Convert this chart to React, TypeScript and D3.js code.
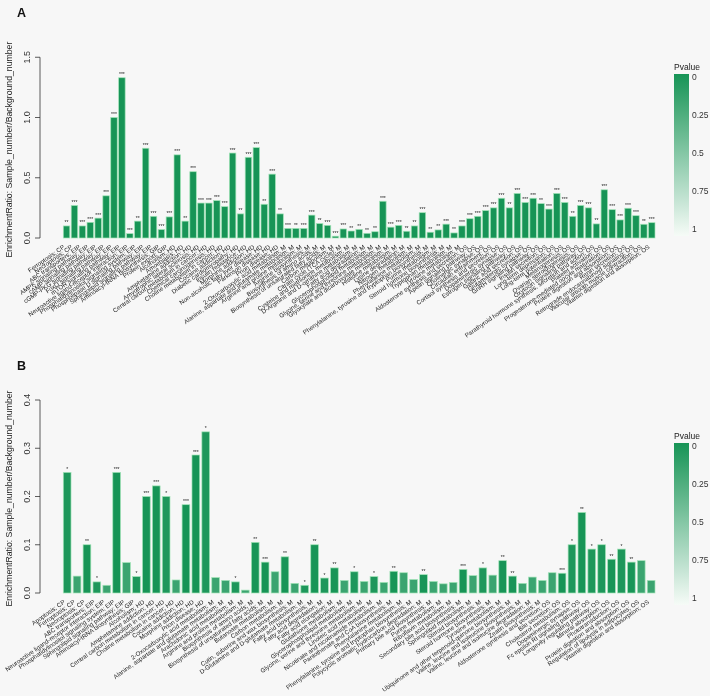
import React from "react";
import * as d3 from "d3";

// ---------- Panel A data ----------
const labelsA: string[] = [
  "Ferroptosis; CP", "Necroptosis; CP",
  "ABC transporters; EIP", "AMPK signaling pathway; EIP", "cAMP signaling pathway; EIP",
  "cGMP-PKG signaling pathway; EIP", "FoxO signaling pathway; EIP", "mTOR signaling pathway; EIP",
  "Neuroactive ligand-receptor interaction; EIP", "Phosphatidylinositol signaling system; EIP",
  "Phospholipase D signaling pathway; EIP", "Sphingolipid signaling pathway; EIP",
  "Aminoacyl-tRNA biosynthesis; GIP", "Protein export; GIP",
  "Alcoholism; HD", "Amoebiasis; HD", "Amphetamine addiction; HD", "Amyotrophic lateral sclerosis; HD",
  "Central carbon metabolism in cancer; HD", "Chemical carcinogenesis; HD", "Choline metabolism in cancer; HD",
  "Cocaine addiction; HD", "Diabetic cardiomyopathy; HD", "Insulin resistance; HD", "Morphine addiction; HD",
  "Non-alcoholic fatty liver disease; HD", "Parkinson disease; HD", "Prion disease; HD",
  "2-Oxocarboxylic acid metabolism; M", "Alanine, aspartate and glutamate metabolism; M",
  "Arginine and proline metabolism; M", "Arginine biosynthesis; M", "Biosynthesis of amino acids; M",
  "Biosynthesis of unsaturated fatty acids; M", "Carbon metabolism; M", "Citrate cycle (TCA cycle); M",
  "Cysteine and methionine metabolism; M", "D-Arginine and D-ornithine metabolism; M",
  "Fatty acid degradation; M", "Glycerophospholipid metabolism; M", "Glycine, serine and threonine metabolism; M",
  "Glyoxylate and dicarboxylate metabolism; M", "Histidine metabolism; M", "Lysine degradation; M",
  "Nitrogen metabolism; M", "Phenylalanine metabolism; M", "Phenylalanine, tyrosine and tryptophan biosynthesis; M",
  "Purine metabolism; M", "Steroid hormone biosynthesis; M", "Tryptophan metabolism; M", "Tyrosine metabolism; M",
  "Aldosterone synthesis and secretion; OS", "Apelin signaling pathway; OS", "Cholinergic synapse; OS",
  "Circadian entrainment; OS", "Cortisol synthesis and secretion; OS", "Dopaminergic synapse; OS",
  "Estrogen signaling pathway; OS", "Gastric acid secretion; OS", "Glutamatergic synapse; OS",
  "GnRH signaling pathway; OS", "Insulin secretion; OS", "Long-term depression; OS", "Long-term potentiation; OS",
  "Melanogenesis; OS", "Ovarian steroidogenesis; OS", "Oxytocin signaling pathway; OS",
  "Parathyroid hormone synthesis, secretion and action; OS", "Platelet activation; OS",
  "Progesterone-mediated oocyte maturation; OS", "Protein digestion and absorption; OS", "Renin secretion; OS",
  "Retrograde endocannabinoid signaling; OS", "Vascular smooth muscle contraction; OS",
  "Vitamin digestion and absorption; OS",
];
const valuesA: number[] = [
  0.10, 0.27, 0.10, 0.13, 0.165, 0.35, 1.00, 1.33, 0.036, 0.14,
  0.745, 0.18, 0.07, 0.175, 0.69, 0.14, 0.55, 0.29, 0.29, 0.31,
  0.26, 0.705, 0.20, 0.67, 0.75, 0.28, 0.53, 0.20, 0.08, 0.08,
  0.08, 0.19, 0.12, 0.105, 0.015, 0.075, 0.058, 0.072, 0.039, 0.052,
  0.305, 0.09, 0.105, 0.056, 0.10, 0.21, 0.048, 0.067, 0.115, 0.042,
  0.10, 0.16, 0.18, 0.227, 0.25, 0.33, 0.25, 0.37, 0.295, 0.33,
  0.285, 0.24, 0.37, 0.295, 0.18, 0.27, 0.25, 0.117, 0.40, 0.235,
  0.15, 0.247, 0.185, 0.114, 0.127,
];
const starsA: string[] = [
  "**", "***", "***", "***", "***", "***", "***", "***", "***", "**",
  "***", "***", "***", "***", "***", "**", "***", "***", "***", "***",
  "***", "***", "**", "***", "***", "**", "***", "**", "***", "**",
  "***", "***", "**", "***", "***", "***", "**", "**", "**", "**",
  "***", "***", "***", "**", "**", "***", "**", "**", "***", "**",
  "***", "***", "***", "***", "***", "***", "**", "***", "***", "***",
  "**", "***", "***", "***", "**", "***", "***", "**", "***", "***",
  "***", "***", "***", "**", "***",
];
const ticksA: number[] = [0, 0.5, 1.0, 1.5];

// ---------- Panel B data ----------
const labelsB: string[] = [
  "Apoptosis; CP", "Ferroptosis; CP", "Necroptosis; CP",
  "ABC transporters; EIP", "Neuroactive ligand-receptor interaction; EIP",
  "Phosphatidylinositol signaling system; EIP", "Sphingolipid signaling pathway; EIP",
  "Aminoacyl-tRNA biosynthesis; GIP",
  "Alcoholism; HD", "Amphetamine addiction; HD", "Central carbon metabolism in cancer; HD",
  "Choline metabolism in cancer; HD", "Cocaine addiction; HD", "Morphine addiction; HD", "Prion disease; HD",
  "2-Oxocarboxylic acid metabolism; M", "Alanine, aspartate and glutamate metabolism; M",
  "Arachidonic acid metabolism; M", "Arginine and proline metabolism; M", "Biosynthesis of amino acids; M",
  "Biosynthesis of unsaturated fatty acids; M", "Butanoate metabolism; M", "Carbon metabolism; M",
  "Cutin, suberine and wax biosynthesis; M", "D-Glutamine and D-glutamate metabolism; M",
  "Fatty acid biosynthesis; M", "Fatty acid degradation; M", "Fatty acid elongation; M",
  "Glutathione metabolism; M", "Glycerophospholipid metabolism; M", "Glycine, serine and threonine metabolism; M",
  "Linoleic acid metabolism; M", "Nicotinate and nicotinamide metabolism; M", "Pantothenate and CoA biosynthesis; M",
  "Phenylalanine metabolism; M", "Phenylalanine, tyrosine and tryptophan biosynthesis; M",
  "Polycyclic aromatic hydrocarbon degradation; M", "Primary bile acid biosynthesis; M", "Purine metabolism; M",
  "Riboflavin metabolism; M", "Secondary bile acid biosynthesis; M", "Sphingolipid metabolism; M",
  "Steroid biosynthesis; M", "Steroid hormone biosynthesis; M", "Tyrosine metabolism; M",
  "Ubiquinone and other terpenoid-quinone biosynthesis; M", "Valine, leucine and isoleucine biosynthesis; M",
  "Valine, leucine and isoleucine degradation; M", "Zeatin biosynthesis; M",
  "Aldosterone synthesis and secretion; OS", "Bile secretion; OS", "Cholesterol metabolism; OS",
  "Dopaminergic synapse; OS", "Fc epsilon RI signaling pathway; OS", "Longevity regulating pathway; OS",
  "Mineral absorption; OS", "Phototransduction; OS", "Protein digestion and absorption; OS",
  "Regulation of lipolysis in adipocytes; OS", "Vitamin digestion and absorption; OS",
];
const valuesB: number[] = [
  0.25, 0.035, 0.10, 0.023, 0.016, 0.25, 0.063, 0.034, 0.20, 0.222,
  0.20, 0.027, 0.183, 0.286, 0.334, 0.032, 0.026, 0.023, 0.006, 0.105,
  0.064, 0.044, 0.075, 0.02, 0.016, 0.10, 0.031, 0.052, 0.026, 0.044,
  0.024, 0.034, 0.022, 0.045, 0.042, 0.028, 0.038, 0.024, 0.019, 0.022,
  0.049, 0.036, 0.052, 0.037, 0.067, 0.035, 0.02, 0.033, 0.026, 0.042,
  0.041, 0.10, 0.167, 0.091, 0.10, 0.07, 0.091, 0.064, 0.067, 0.026,
];
const starsB: string[] = [
  "*", "", "**", "*", "", "***", "", "*", "***", "***",
  "*", "", "***", "***", "*", "", "", "*", "", "**",
  "***", "", "**", "", "*", "**", "*", "**", "", "*",
  "", "*", "", "**", "", "", "**", "", "", "",
  "***", "", "*", "", "**", "**", "", "", "", "",
  "***", "*", "**", "*", "*", "**", "*", "**", "", "",
];
const ticksB: number[] = [0, 0.1, 0.2, 0.3, 0.4];

const legendTicks: number[] = [0, 0.25, 0.5, 0.75, 1];
const starP: Record<string, number> = { "***": 0.0005, "**": 0.005, "*": 0.03, "": 0.16 };

const FONT = "'Liberation Sans', Arial, Helvetica, sans-serif";
const color = d3
  .scaleLinear<string>()
  .domain([0, 1])
  .range(["#179456", "#f6fbf7"])
  .interpolate(d3.interpolateRgb);

type PanelProps = {
  id: string;
  letter: string;
  labels: string[];
  values: number[];
  stars: string[];
  ticks: number[];
  yTop: number;
  yBase: number;
  inner: number;
  offset: number;
  legendOffset: number;
};

function Panel(p: PanelProps) {
  const n = p.values.length;
  const x = d3
    .scaleBand<number>()
    .domain(d3.range(n))
    .range([63.3, 655])
    .paddingInner(p.inner)
    .paddingOuter(0);
  const yMax = p.ticks[p.ticks.length - 1];
  const y = d3.scaleLinear().domain([0, yMax]).range([p.yBase, p.yTop]);
  const bw = x.bandwidth();
  const lo = p.legendOffset;
  const legY = d3.scaleLinear().domain([0, 1]).range([lo + 78, lo + 230]);
  const gradStops = d3.range(0, 1.0001, 0.1);
  return (
    <g>
      <defs>
        <linearGradient id={`grad${p.id}`} x1="0" y1="0" x2="0" y2="1">
          {gradStops.map((s) => (
            <stop key={s} offset={`${s * 100}%`} stopColor={color(s)} />
          ))}
        </linearGradient>
      </defs>
      <text x={17} y={p.offset + 17} fontFamily={FONT} fontWeight="bold" fontSize={12.5} fill="#111">
        {p.letter}
      </text>
      <text
        transform={`translate(12,${(p.yTop + p.yBase) / 2 + 2}) rotate(-90)`}
        textAnchor="middle"
        fontFamily={FONT}
        fontSize={8.7}
        fill="#222"
      >
        EnrichmentRatio: Sample_number/Background_number
      </text>
      <line x1={40} x2={40} y1={y(0)} y2={y(yMax)} stroke="#333" strokeWidth={0.8} />
      {p.ticks.map((t) => (
        <g key={t}>
          <line x1={35} x2={40} y1={y(t)} y2={y(t)} stroke="#333" strokeWidth={0.8} />
          <text
            transform={`translate(30,${y(t)}) rotate(-90)`}
            textAnchor="middle"
            fontFamily={FONT}
            fontSize={9}
            fill="#333"
          >
            {t.toFixed(1)}
          </text>
        </g>
      ))}
      {p.values.map((v, i) => (
        <rect
          key={i}
          x={x(i)}
          y={y(v)}
          width={bw}
          height={y(0) - y(v)}
          fill={color(starP[p.stars[i]])}
          stroke="#a3e4b8"
          strokeWidth={0.7}
        />
      ))}
      {p.values.map((v, i) =>
        p.stars[i] ? (
          <text
            key={`s${i}`}
            x={(x(i) as number) + bw / 2}
            y={y(v) - 1.5}
            textAnchor="middle"
            fontFamily={FONT}
            fontSize={5}
            fill="#222"
          >
            {p.stars[i]}
          </text>
        ) : null
      )}
      {p.labels.map((l, i) => (
        <text
          key={`l${i}`}
          transform={`translate(${(x(i) as number) + bw / 2 - 1.5},${p.yBase + 10}) rotate(-35)`}
          textAnchor="end"
          fontFamily={FONT}
          fontSize={6.2}
          fill="#222"
        >
          {l}
        </text>
      ))}
      <text x={674} y={lo + 70} fontFamily={FONT} fontSize={8.5} fill="#222">
        Pvalue
      </text>
      <rect x={674} y={lo + 74} width={15} height={162} fill={`url(#grad${p.id})`} />
      {legendTicks.map((t) => (
        <text
          key={`g${t}`}
          x={692}
          y={legY(t)}
          dominantBaseline="middle"
          fontFamily={FONT}
          fontSize={8.5}
          fill="#333"
        >
          {String(t)}
        </text>
      ))}
    </g>
  );
}

export default function App() {
  return (
    <svg
      width={710}
      height={696}
      style={{ position: "absolute", left: 0, top: 0, display: "block", willChange: "transform" }}
    >
      <rect x={0} y={0} width={710} height={696} fill="#f7f7f7" />
      <Panel
        id="A"
        letter="A"
        labels={labelsA}
        values={valuesA}
        stars={starsA}
        ticks={ticksA}
        yTop={57.25}
        yBase={238}
        inner={0.18}
        offset={0}
        legendOffset={0}
      />
      <Panel
        id="B"
        letter="B"
        labels={labelsB}
        values={valuesB}
        stars={starsB}
        ticks={ticksB}
        yTop={400}
        yBase={593}
        inner={0.22}
        offset={353}
        legendOffset={369}
      />
    </svg>
  );
}
